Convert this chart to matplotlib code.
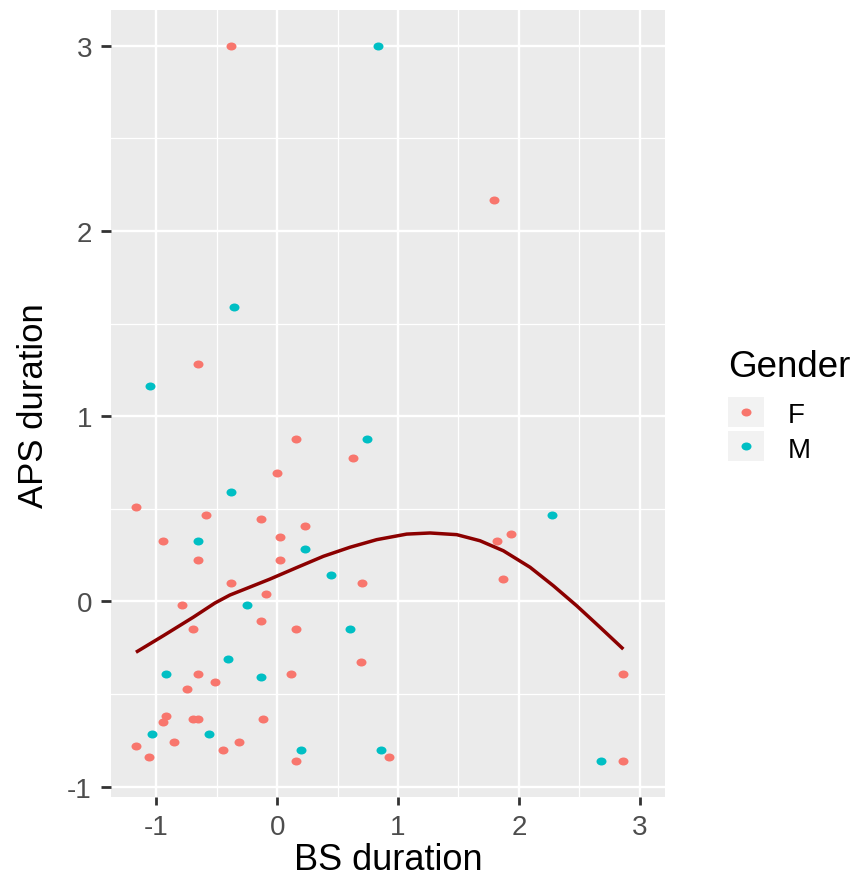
import numpy as np
import matplotlib
matplotlib.use("Agg")
import matplotlib.pyplot as plt
from matplotlib.path import Path
from matplotlib.patches import Rectangle
from matplotlib.lines import Line2D

plt.rcParams['font.family'] = ['Liberation Sans', 'DejaVu Sans']
plt.rcParams['axes.unicode_minus'] = False

# ---- data ----
bs_F = [0.630, 0.001, -1.171, -0.587, -0.137, 0.228, -0.943, 0.023, -0.656, 0.023,
        -0.380, 0.700, -0.090, -0.791, -0.137, -0.700, 0.158, 0.696, -0.653, 0.112,
        -0.517, -0.747, -0.918, -0.945, -0.700, -0.653, -0.115, -1.171, -0.852, -0.314,
        -0.446, -1.059, 0.158, 0.928, -0.382, -0.653, 0.158, 1.938, 1.822, 1.872,
        2.863, 2.863, 1.795]
aps_F = [0.774, 0.693, 0.508, 0.468, 0.446, 0.407, 0.326, 0.346, 0.221, 0.221,
         0.099, 0.099, 0.038, -0.022, -0.106, -0.148, -0.148, -0.329, -0.391, -0.391,
         -0.434, -0.474, -0.618, -0.653, -0.636, -0.636, -0.636, -0.780, -0.758, -0.758,
         -0.801, -0.842, -0.862, -0.842, 3.000, 1.283, 0.875, 0.365, 0.324, 0.119,
         -0.391, -0.862, 2.167]

bs_M = [-0.382, -0.656, 0.228, 0.448, -0.248, 0.605, -0.405, -0.921, -0.137, -1.034,
        -0.565, 0.200, 0.857, 0.834, -0.355, -1.055, 0.743, 2.277, 2.680]
aps_M = [0.589, 0.326, 0.282, 0.140, -0.022, -0.148, -0.310, -0.391, -0.410, -0.717,
         -0.717, -0.801, -0.801, 3.000, 1.591, 1.163, 0.875, 0.466, -0.862]

smooth_x = [-1.169, -0.943, -0.695, -0.515, -0.391, -0.252, -0.060, 0.161, 0.382, 0.603,
            0.824, 1.072, 1.265, 1.486, 1.679, 1.872, 2.093, 2.286, 2.479, 2.672, 2.865]
smooth_y = [-0.275, -0.186, -0.086, -0.009, 0.034, 0.070, 0.120, 0.182, 0.243, 0.292,
            0.333, 0.363, 0.369, 0.360, 0.327, 0.273, 0.184, 0.084, -0.024, -0.140, -0.258]

x_ticks = [-1, 0, 1, 2, 3]
y_ticks = [-1, 0, 1, 2, 3]
groups = ['F', 'M']
colors = {'F': '#F8766D', 'M': '#00BFC4'}

# ---- figure ----
W, H = 868, 878
fig = plt.figure(figsize=(W / 100, H / 100), dpi=100)
L, R, T, B = 110.7, 665.0, 11.0, 797.7
ax = fig.add_axes([L / W, 1 - B / H, (R - L) / W, (B - T) / H])
ax.set_facecolor('#EBEBEB')
for s in ax.spines.values():
    s.set_visible(False)

ax.set_xlim(-1.378, 3.210)
ax.set_ylim(-1.055, 3.193)
ax.set_xticks(x_ticks)
ax.set_yticks(y_ticks)
ax.set_xticklabels([str(t) for t in x_ticks])
ax.set_yticklabels([str(t) for t in y_ticks])
ax.set_xticks([-0.5, 0.5, 1.5, 2.5], minor=True)
ax.set_yticks([-0.5, 0.5, 1.5, 2.5], minor=True)
ax.grid(which='major', color='white', linewidth=1.7)
ax.grid(which='minor', color='white', linewidth=0.9)
ax.set_axisbelow(True)
ax.tick_params(which='minor', length=0)
ax.tick_params(axis='x', which='major', length=6, width=2, color='#333333',
               labelsize=20, labelcolor='#4D4D4D', pad=6.5)
ax.tick_params(axis='y', which='major', length=7.5, width=2, color='#333333',
               labelsize=20, labelcolor='#4D4D4D', pad=6)

# ellipse marker (reference points are slightly wider than tall)
circ = Path.unit_circle()
ell = Path(circ.vertices * np.array([1.25, 1.0]), circ.codes)
MS = 7.2

ax.plot(bs_F, aps_F, linestyle='none', marker=ell, markersize=MS,
        markerfacecolor=colors['F'], markeredgewidth=0, zorder=3)
ax.plot(bs_M, aps_M, linestyle='none', marker=ell, markersize=MS,
        markerfacecolor=colors['M'], markeredgewidth=0, zorder=3)
ax.plot(smooth_x, smooth_y, color='#8B0000', linewidth=2.5, zorder=4,
        solid_joinstyle='round', solid_capstyle='butt')

# axis titles
fig.text(387.9 / W, 1 - 870 / H, 'BS duration', fontsize=26, color='black',
         ha='center', va='baseline')
fig.text(43 / W, 1 - 406 / H, 'APS duration', fontsize=25, color='black',
         ha='center', va='baseline', rotation=90, rotation_mode='anchor')

# legend
fig.text(728 / W, 1 - 376.7 / H, 'Gender', fontsize=26.5, color='black',
         ha='left', va='baseline')
key_tops = [398.3, 432.3]
label_base = [423.3, 457.8]
for i, g in enumerate(groups):
    fig.add_artist(Rectangle((728.3 / W, 1 - (key_tops[i] + 30) / H), 35.7 / W, 30 / H,
                             transform=fig.transFigure, facecolor='#F2F2F2',
                             edgecolor='none'))
    cy = key_tops[i] + 15
    fig.add_artist(Line2D([746 / W], [1 - cy / H], transform=fig.transFigure,
                          linestyle='none', marker=ell, markersize=MS,
                          markerfacecolor=colors[g], markeredgewidth=0))
    fig.text(787.3 / W, 1 - label_base[i] / H, g, fontsize=20, color='black',
             ha='left', va='baseline')

fig.savefig('out.png', dpi=100)
